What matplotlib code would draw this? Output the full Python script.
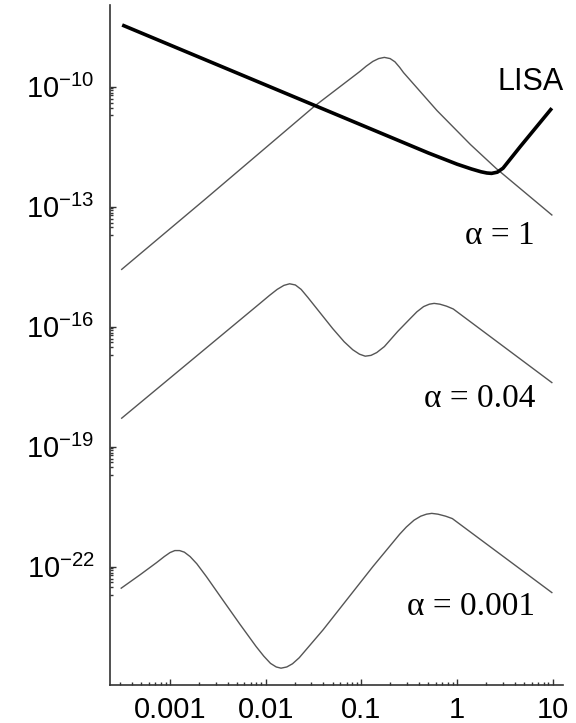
import numpy as np
import matplotlib
matplotlib.use("Agg")
import matplotlib.pyplot as plt

plt.rcParams['font.family'] = ['Liberation Sans', 'DejaVu Sans']
plt.rcParams['mathtext.fontset'] = 'custom'
plt.rcParams['mathtext.rm'] = 'Liberation Sans'
plt.rcParams['mathtext.it'] = 'Liberation Sans'

# -------------------------------
# Data (log10 f, log10 h)
# -------------------------------
lisa_logf = [-3.50, -2.69, -1.50, -0.91, -0.30, 0.00, 0.15, 0.25, 0.31, 0.36, 0.42, 0.48, 0.66, 0.99]
lisa_logh = [-8.46, -9.27, -10.46, -11.05, -11.66, -11.94, -12.06, -12.13, -12.16, -12.17, -12.14, -12.04, -11.50, -10.54]

a1_logf = [-3.505, -2.63, -1.485, -1.015, -0.95, -0.88, -0.82, -0.76, -0.70, -0.65, -0.60, -0.56, -0.21, 0.14, 0.41, 0.99]
a1_logh = [-14.57, -12.81, -10.48, -9.62, -9.49, -9.37, -9.30, -9.27, -9.30, -9.38, -9.52, -9.65, -10.60, -11.45, -12.05, -13.21]

a04_logf = [-3.505, -2.06, -1.96, -1.88, -1.81, -1.75, -1.69, -1.63, -1.56, -1.45, -1.30, -1.18, -1.09, -1.02,
            -0.96, -0.90, -0.84, -0.76, -0.62, -0.49, -0.42, -0.35, -0.29, -0.24, -0.18, -0.11, -0.04, 0.99]
a04_logh = [-18.29, -15.42, -15.22, -15.07, -14.97, -14.93, -14.96, -15.07, -15.27, -15.60, -16.05, -16.38, -16.58, -16.69,
            -16.74, -16.72, -16.65, -16.50, -16.12, -15.80, -15.63, -15.50, -15.44, -15.42, -15.44, -15.49, -15.56, -17.40]

a001_logf = [-3.51, -3.31, -3.14, -3.06, -3.00, -2.95, -2.90, -2.85, -2.79, -2.72, -2.62, -2.45, -2.27, -2.10, -2.02,
             -1.95, -1.89, -1.84, -1.78, -1.72, -1.65, -1.40, -0.88, -0.60, -0.53, -0.45, -0.38, -0.32, -0.265, -0.20,
             -0.12, -0.05, 0.99]
a001_logh = [-22.54, -22.20, -21.90, -21.75, -21.65, -21.60, -21.60, -21.64, -21.75, -21.93, -22.25, -22.83, -23.44, -24.00, -24.24,
             -24.42, -24.51, -24.54, -24.51, -24.43, -24.28, -23.58, -22.00, -21.19, -21.01, -20.84, -20.74, -20.69, -20.67, -20.69,
             -20.74, -20.80, -22.65]

series = [
    (a1_logf, a1_logh),
    (a04_logf, a04_logh),
    (a001_logf, a001_logh),
]

alpha_labels = ["α = 1", "α = 0.04", "α = 0.001"]
alpha_label_logh = [-13.73, -17.81, -23.01]

xtick_vals = [0.001, 0.01, 0.1, 1, 10]
xtick_labels = ["0.001", "0.01", "0.1", "1", "10"]
ytick_exps = [-10, -13, -16, -19, -22]

# -------------------------------
# Figure
# -------------------------------
fig = plt.figure(figsize=(5.76, 7.23), dpi=100)
ax = fig.add_axes([0.191, 0.0526, 0.7865, 0.9405])

for lf, lh in series:
    ax.plot(10.0 ** np.array(lf), 10.0 ** np.array(lh), color='#555555', lw=1.0)

ax.plot(10.0 ** np.array(lisa_logf), 10.0 ** np.array(lisa_logh), color='black', lw=2.6,
        solid_capstyle='butt', solid_joinstyle='round')

ax.set_xscale('log')
ax.set_yscale('log')
ax.set_xlim(10 ** -3.627, 10 ** 1.107)
ax.set_ylim(10 ** -24.96, 10 ** -7.96)

# ticks
ax.set_xticks(xtick_vals)
ax.set_xticklabels(xtick_labels)
xminor = [k * 10.0 ** n for n in range(-4, 2) for k in range(2, 10)]
xminor = [v for v in xminor if 10 ** -3.627 < v < 10 ** 1.107]
ax.set_xticks(xminor, minor=True)

ax.set_yticks([10.0 ** e for e in ytick_exps])
ax.set_yticklabels([r"$10^{%d}$" % e for e in ytick_exps])
yminor = [k * 10.0 ** (e - 1) for e in ytick_exps for k in range(2, 10)]
ax.set_yticks(yminor, minor=True)
ax.yaxis.set_minor_formatter(matplotlib.ticker.NullFormatter())
ax.xaxis.set_minor_formatter(matplotlib.ticker.NullFormatter())

ax.tick_params(which='both', direction='in', color='#333333', width=1.0)
ax.tick_params(which='major', length=4.5)
ax.tick_params(which='minor', length=2.0)
ax.tick_params(axis='x', which='major', labelsize=21, pad=8)
ax.tick_params(axis='y', which='major', labelsize=21, pad=11)

for side in ['top', 'right']:
    ax.spines[side].set_visible(False)
for side in ['left', 'bottom']:
    ax.spines[side].set_color('#333333')
    ax.spines[side].set_linewidth(1.2)

# labels
ax.text(10 ** 0.417, 10 ** -9.88, "LISA", fontsize=22, ha='left', va='center')
for txt, lh in zip(alpha_labels, alpha_label_logh):
    ax.text(10 ** 0.814, 10 ** lh, txt, fontsize=24, ha='right', va='center',
            family=['Liberation Serif', 'DejaVu Serif'])

plt.savefig("out.png", dpi=100)
plt.close()
